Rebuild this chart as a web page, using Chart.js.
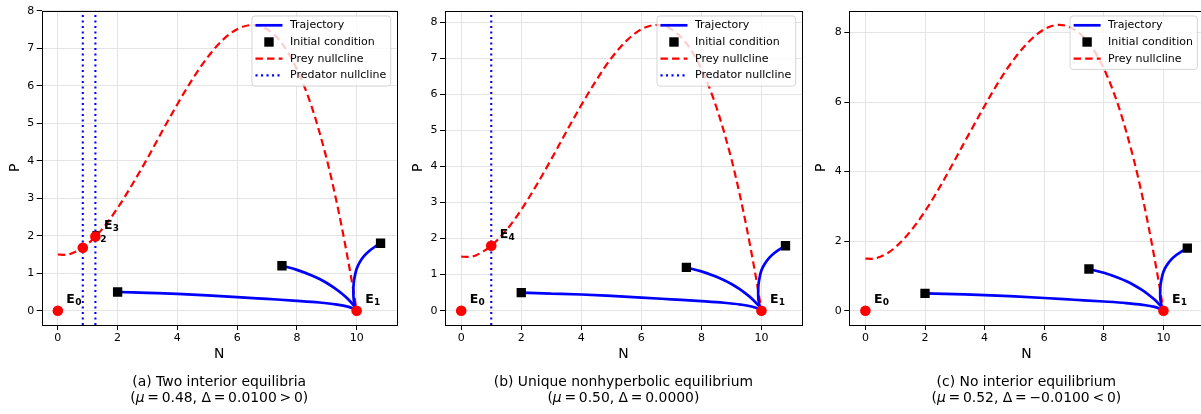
<!DOCTYPE html>
<html lang="en">
<head>
  <meta charset="UTF-8">
  <title>Prey-predator nullclines and trajectories</title>
  <script src="https://cdn.jsdelivr.net/npm/chart.js"></script>
  <style>
    body {
      margin: 0;
      background: #fff;
      width: 1201px;
      height: 414px;
      overflow: hidden;
      position: relative;
    }
    canvas {
      position: absolute;
      top: 0;
    }
  </style>
</head>
<body>
  <canvas id="chartA" width="410" height="414" style="left:0"></canvas>
  <canvas id="chartB" width="410" height="414" style="left:400px"></canvas>
  <canvas id="chartC" width="410" height="414" style="left:800px"></canvas>

  <script>
    // ---- data ----
    const xTicks = [0, 2, 4, 6, 8, 10];
    const yTicksAB = [0, 1, 2, 3, 4, 5, 6, 7, 8];
    const yTicksC = [0, 2, 4, 6, 8];

    // prey nullcline P(N), one curve per mu
    const nullN = [0, 0.25, 0.5, 0.75, 1, 1.5, 2, 2.5, 3, 3.5, 4, 4.5, 5, 5.5, 6, 6.5, 7, 7.5, 8, 8.5, 9, 9.25, 9.5, 9.75, 9.9, 10];
    const preyA = [1.5, 1.49, 1.54, 1.64, 1.78, 2.19, 2.74, 3.38, 4.07, 4.80, 5.51, 6.17, 6.75, 7.21, 7.51, 7.62, 7.51, 7.13, 6.44, 5.43, 4.04, 3.19, 2.24, 1.18, 0.49, 0];
    const preyB = [1.5, 1.49, 1.54, 1.65, 1.80, 2.23, 2.80, 3.47, 4.20, 4.96, 5.70, 6.39, 7.00, 7.48, 7.80, 7.92, 7.80, 7.41, 6.70, 5.64, 4.20, 3.32, 2.33, 1.23, 0.51, 0];
    const preyC = [1.5, 1.49, 1.55, 1.66, 1.82, 2.27, 2.86, 3.56, 4.33, 5.12, 5.89, 6.62, 7.25, 7.75, 8.09, 8.22, 8.09, 7.69, 6.96, 5.86, 4.36, 3.45, 2.42, 1.27, 0.53, 0];

    // predator nullclines (vertical lines N = N*)
    const predA = [0.835, 1.257];
    const predB = [1.0];
    const predC = [];

    // trajectories (same initial conditions in every panel)
    const traj1N = [2, 3, 4, 5, 6, 7, 8, 8.75, 9.3, 9.7, 10];
    const traj1P = [0.5, 0.475, 0.45, 0.41, 0.365, 0.315, 0.265, 0.22, 0.17, 0.11, 0.02];
    const traj2N = [7.5, 8, 8.5, 8.76, 9, 9.25, 9.5, 9.7, 9.85, 9.95, 10];
    const traj2P = [1.2, 1.09, 0.94, 0.845, 0.74, 0.61, 0.46, 0.32, 0.19, 0.09, 0.02];
    const traj3N = [10.8, 10.6, 10.43, 10.25, 10.1, 10, 9.94, 9.9, 9.89, 9.9, 9.94, 10];
    const traj3P = [1.8, 1.7, 1.6, 1.46, 1.29, 1.12, 0.93, 0.72, 0.5, 0.31, 0.13, 0.02];
    const icN = [2, 7.5, 10.8];
    const icP = [0.5, 1.2, 1.8];

    // equilibria
    const eqAN = [0, 10, 0.835, 1.257];
    const eqAP = [0, 0, 1.68, 1.98];
    const eqALab = ['0', '1', '2', '3'];
    const eqBN = [0, 10, 1.0];
    const eqBP = [0, 0, 1.8];
    const eqBLab = ['0', '1', '4'];
    const eqCN = [0, 10];
    const eqCP = [0, 0];
    const eqCLab = ['0', '1'];

    const captions = ['(a) Two interior equilibria', '(b) Unique nonhyperbolic equilibrium', '(c) No interior equilibrium'];
    const muText = ['0.48', '0.50', '0.52'];
    const deltaText = ['0.0100\u2009>\u20090', '0.0000', '\u22120.0100\u2009<\u20090'];

    // ---- drawing ----
    const FONT = '"DejaVu Sans", sans-serif';
    Chart.defaults.font.family = FONT;
    Chart.defaults.color = '#000';

    const PREY_DASH = [7.4, 4.2];
    const PRED_DASH = [2.1, 3.4];

    const pts = (xs, ys) => xs.map((x, i) => ({ x: x, y: ys[i] }));

    function drawRich(ctx, parts, cx, cy) {
      let total = 0;
      parts.forEach(p => { ctx.font = p[1]; total += ctx.measureText(p[0]).width; });
      let x = cx - total / 2;
      ctx.textAlign = 'left';
      ctx.textBaseline = 'middle';
      parts.forEach(p => {
        ctx.font = p[1];
        ctx.fillText(p[0], x, cy);
        x += ctx.measureText(p[0]).width;
      });
    }

    function drawLegend(ctx, area, showPred) {
      const items = [
        { label: 'Trajectory', kind: 'line', color: '#0000ff', width: 2.7, dash: [] },
        { label: 'Initial condition', kind: 'square' },
        { label: 'Prey nullcline', kind: 'line', color: '#ff0000', width: 2.2, dash: PREY_DASH }
      ];
      if (showPred) items.push({ label: 'Predator nullcline', kind: 'line', color: '#0000ff', width: 2.1, dash: PRED_DASH });

      ctx.save();
      ctx.font = '11px ' + FONT;
      const textW = Math.max(...items.map(it => ctx.measureText(it.label).width));
      const pitch = 16.7;
      const w = 3.5 + 27 + 7.5 + textW + 4.5;
      const h = items.length * pitch + 3.3;
      const x0 = area.right - 6 - w;
      const y0 = area.top + 5.3;

      ctx.beginPath();
      ctx.roundRect(x0, y0, w, h, 3);
      ctx.fillStyle = 'rgba(255,255,255,0.8)';
      ctx.fill();
      ctx.strokeStyle = 'rgba(204,204,204,0.8)';
      ctx.lineWidth = 1;
      ctx.stroke();

      items.forEach((it, i) => {
        const cy = y0 + 9.3 + i * pitch;
        const sx = x0 + 3.5;
        if (it.kind === 'line') {
          ctx.beginPath();
          ctx.setLineDash(it.dash);
          ctx.strokeStyle = it.color;
          ctx.lineWidth = it.width;
          ctx.moveTo(sx, cy);
          ctx.lineTo(sx + 27, cy);
          ctx.stroke();
          ctx.setLineDash([]);
        } else {
          ctx.fillStyle = '#000';
          ctx.fillRect(sx + 13.5 - 4.7, cy - 4.7, 9.4, 9.4);
        }
        ctx.fillStyle = '#000';
        ctx.textAlign = 'left';
        ctx.textBaseline = 'middle';
        ctx.fillText(it.label, sx + 27 + 7.5, cy);
      });
      ctx.restore();
    }

    const panels = [
      { id: 'chartA', prey: preyA, pred: predA, eqN: eqAN, eqP: eqAP, eqLab: eqALab,
        yMin: -0.381, yMax: 8.004, yTicks: yTicksAB, left: 41.7, right: 396.7, pTitle: 15.5 },
      { id: 'chartB', prey: preyB, pred: predB, eqN: eqBN, eqP: eqBP, eqLab: eqBLab,
        yMin: -0.396, yMax: 8.316, yTicks: yTicksAB, left: 45, right: 401.7, pTitle: 18.8 },
      { id: 'chartC', prey: preyC, pred: predC, eqN: eqCN, eqP: eqCP, eqLab: eqCLab,
        yMin: -0.411, yMax: 8.626, yTicks: yTicksC, left: 49.3, right: 405.3, pTitle: 21.2 }
    ];

    panels.forEach((p, k) => {
      const datasets = [];
      datasets.push({
        isEq: true, data: pts(p.eqN, p.eqP), showLine: false,
        pointRadius: 5.3, pointBackgroundColor: '#ff0000', pointBorderWidth: 0, order: 0
      });
      datasets.push({
        data: pts(icN, icP), showLine: false, pointStyle: 'rect',
        pointRadius: 6.6, pointBackgroundColor: '#000', pointBorderWidth: 0, order: 1
      });
      // the first two trajectories move steadily to the right, the third turns back
      [[traj1N, traj1P, 'monotone'], [traj2N, traj2P, 'monotone'], [traj3N, traj3P, 'default']].forEach(t => {
        datasets.push({
          data: pts(t[0], t[1]), showLine: true, borderColor: '#0000ff', borderWidth: 2.7,
          pointRadius: 0, tension: 0.3, cubicInterpolationMode: t[2], order: 2
        });
      });
      datasets.push({
        data: pts(nullN, p.prey), showLine: true, borderColor: '#ff0000', borderWidth: 2.2,
        borderDash: PREY_DASH, pointRadius: 0, cubicInterpolationMode: 'monotone', order: 3
      });
      p.pred.forEach(n => {
        datasets.push({
          data: [{ x: n, y: p.yMin }, { x: n, y: p.yMax }], showLine: true, borderColor: '#0000ff',
          borderWidth: 2.1, borderDash: PRED_DASH, pointRadius: 0, order: 3
        });
      });

      const panelPlugin = {
        id: 'panelDeco' + k,
        beforeDatasetDraw(chart, args) {
          if (!chart.data.datasets[args.index].isEq) return;
          const ctx = chart.ctx, xs = chart.scales.x, ys = chart.scales.y;
          ctx.save();
          ctx.fillStyle = '#000';
          ctx.textAlign = 'left';
          ctx.textBaseline = 'alphabetic';
          p.eqN.forEach((n, i) => {
            const px = xs.getPixelForValue(n) + 8.5;
            const py = ys.getPixelForValue(p.eqP[i]) - 8;
            ctx.font = 'bold 12.5px ' + FONT;
            ctx.fillText('E', px, py);
            const w = ctx.measureText('E').width;
            ctx.font = 'bold 9px ' + FONT;
            ctx.fillText(p.eqLab[i], px + w + 0.3, py + 2);
          });
          ctx.restore();
        },
        afterDatasetsDraw(chart) {
          const ctx = chart.ctx, a = chart.chartArea;
          ctx.save();
          ctx.strokeStyle = '#000';
          ctx.lineWidth = 1;
          ctx.strokeRect(Math.round(a.left) + 0.5, Math.round(a.top) + 0.5,
            Math.round(a.right - a.left), Math.round(a.bottom - a.top));
          ctx.restore();
          drawLegend(ctx, a, p.pred.length > 0);
        },
        afterDraw(chart) {
          const ctx = chart.ctx, a = chart.chartArea;
          const cx = (a.left + a.right) / 2;
          const normal = '13.9px ' + FONT;
          const italic = 'italic 13.9px ' + FONT;
          ctx.save();
          ctx.fillStyle = '#000';
          drawRich(ctx, [[captions[k], normal]], cx, 382.5);
          drawRich(ctx, [
            ['(', normal],
            ['\u03bc', italic],
            ['\u2009=\u2009' + muText[k] + ', ', normal],
            ['\u0394\u2009=\u2009' + deltaText[k] + ')', normal]
          ], cx, 398.5);
          ctx.restore();
        }
      };

      const gridOpts = { color: '#e4e4e4', lineWidth: 1, tickColor: '#000', tickLength: 5, tickWidth: 1 };

      new Chart(document.getElementById(p.id), {
        type: 'scatter',
        data: { datasets: datasets },
        options: {
          responsive: false,
          animation: false,
          events: [],
          layout: { padding: { top: 10.7, right: 410 - p.right, bottom: 0, left: 0 } },
          plugins: { legend: { display: false }, tooltip: { enabled: false } },
          scales: {
            x: {
              type: 'linear', min: -0.54, max: 11.34,
              afterBuildTicks: s => { s.ticks = xTicks.map(v => ({ value: v })); },
              afterFit: s => { s.height = 89; },
              ticks: { font: { size: 11 }, padding: 2, color: '#000', callback: v => String(v) },
              grid: gridOpts,
              border: { display: false },
              title: { display: true, text: 'N', color: '#000', font: { size: 13.9, lineHeight: 1 }, padding: { top: 0, bottom: 53 } }
            },
            y: {
              type: 'linear', min: p.yMin, max: p.yMax,
              afterBuildTicks: s => { s.ticks = p.yTicks.map(v => ({ value: v })); },
              afterFit: s => { s.width = p.left; },
              ticks: { font: { size: 11 }, padding: 2.5, color: '#000', callback: v => String(v) },
              grid: gridOpts,
              border: { display: false },
              title: { display: true, text: 'P', color: '#000', font: { size: 13.9, lineHeight: 1 }, padding: { top: p.pTitle - 6.95, bottom: 0 } }
            }
          }
        },
        plugins: [panelPlugin]
      });
    });
  </script>
</body>
</html>
